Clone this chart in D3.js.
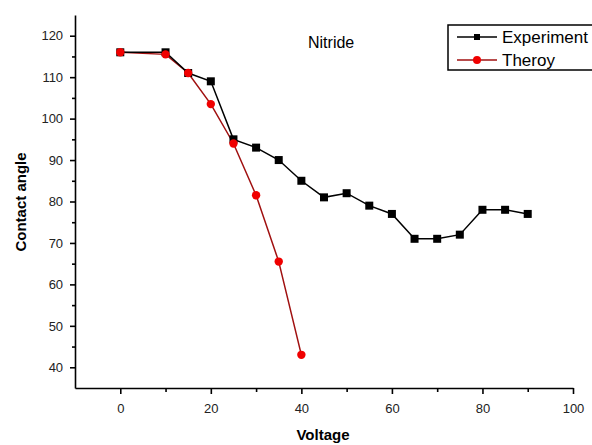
<!DOCTYPE html>
<html>
<head>
<meta charset="utf-8">
<script src="https://cdn.jsdelivr.net/npm/d3@7"></script>
<style>
  body { margin: 0; background: #fff; }
  text { font-family: "Liberation Sans", Arial, sans-serif; }
</style>
</head>
<body>
<svg id="chart" width="592" height="445"></svg>
<script>
// data
const exp_voltage = [0, 10, 15, 20, 25, 30, 35, 40, 45, 50, 55, 60, 65, 70, 75, 80, 85, 90];
const exp_angle = [116, 116, 111, 109, 95, 93, 90, 85, 81, 82, 79, 77, 71, 71, 72, 78, 78, 77];
const theory_voltage = [0, 10, 15, 20, 25, 30, 35, 40];
const theory_angle = [116, 115.5, 111, 103.5, 94, 81.5, 65.5, 43];
const x_ticks = [0, 20, 40, 60, 80, 100];
const y_ticks = [40, 50, 60, 70, 80, 90, 100, 110, 120];

const svg = d3.select('#chart');
const x = d3.scaleLinear().domain([-10, 100]).range([75, 573]);
const y = d3.scaleLinear().domain([35, 125]).range([388, 15]);

// axes
let x_axis = svg.append('g').attr('transform', 'translate(0,388)')
    .call(d3.axisBottom(x).tickValues(x_ticks).tickSize(6).tickSizeOuter(0));
svg.append('g').attr('transform', 'translate(0,388)')
    .call(d3.axisBottom(x).tickValues(d3.range(10, 100, 20)).tickSize(4).tickFormat(''))
    .select('.domain').remove();
let y_axis = svg.append('g').attr('transform', 'translate(75,0)')
    .call(d3.axisLeft(y).tickValues(y_ticks).tickSize(5).tickSizeOuter(0));
svg.append('g').attr('transform', 'translate(75,0)')
    .call(d3.axisLeft(y).tickValues(d3.range(45, 125, 10)).tickSize(3).tickFormat(''))
    .select('.domain').remove();

svg.selectAll('.domain').attr('stroke', '#000').attr('stroke-width', 1.6);
svg.selectAll('.tick line').attr('stroke', '#000').attr('stroke-width', 1.6);
x_axis.selectAll('.tick text').attr('font-size', 13).attr('dy', '1.25em').attr('fill', '#222');
y_axis.selectAll('.tick text').attr('font-size', 13).attr('dx', '-0.3em').attr('fill', '#222');

svg.append('text').attr('x', 323).attr('y', 440).attr('text-anchor', 'middle')
    .attr('font-size', 15).attr('font-weight', 'bold').text('Voltage');
svg.append('text').attr('transform', 'translate(26,202) rotate(-90)').attr('text-anchor', 'middle')
    .attr('font-size', 15).attr('font-weight', 'bold').text('Contact angle');

// series
const exp_points = exp_voltage.map((v, i) => [v, exp_angle[i]]);
const theory_points = theory_voltage.map((v, i) => [v, theory_angle[i]]);
const line = d3.line().x(d => x(d[0])).y(d => y(d[1]));

svg.append('path').datum(theory_points).attr('d', line)
    .attr('fill', 'none').attr('stroke', '#a01010').attr('stroke-width', 1.5);
svg.append('path').datum(exp_points).attr('d', line)
    .attr('fill', 'none').attr('stroke', '#000').attr('stroke-width', 1.5);

svg.selectAll('rect.exp').data(exp_points).enter().append('rect').attr('class', 'exp')
    .attr('x', d => x(d[0]) - 4).attr('y', d => y(d[1]) - 4)
    .attr('width', 8).attr('height', 8).attr('fill', '#000');
svg.selectAll('circle.theory').data(theory_points).enter().append('circle').attr('class', 'theory')
    .attr('cx', d => x(d[0])).attr('cy', d => y(d[1])).attr('r', 4.2).attr('fill', '#f00000');

// title inside plot
svg.append('text').attr('x', 308).attr('y', 48).attr('font-size', 16).text('Nitride');

// legend
let legend = svg.append('g');
legend.append('rect').attr('x', 448).attr('y', 25).attr('width', 150).attr('height', 45)
    .attr('fill', 'none').attr('stroke', '#000').attr('stroke-width', 1.5);
legend.append('line').attr('x1', 457).attr('x2', 497).attr('y1', 37).attr('y2', 37)
    .attr('stroke', '#000').attr('stroke-width', 1.5);
legend.append('rect').attr('x', 474).attr('y', 34).attr('width', 6).attr('height', 6).attr('fill', '#000');
legend.append('line').attr('x1', 457).attr('x2', 497).attr('y1', 60).attr('y2', 60)
    .attr('stroke', '#a01010').attr('stroke-width', 1.5);
legend.append('circle').attr('cx', 477).attr('cy', 60).attr('r', 4).attr('fill', '#f00000');
legend.append('text').attr('x', 502).attr('y', 43).attr('font-size', 17).text('Experiment');
legend.append('text').attr('x', 502).attr('y', 66).attr('font-size', 17).text('Theroy');
</script>
</body>
</html>
